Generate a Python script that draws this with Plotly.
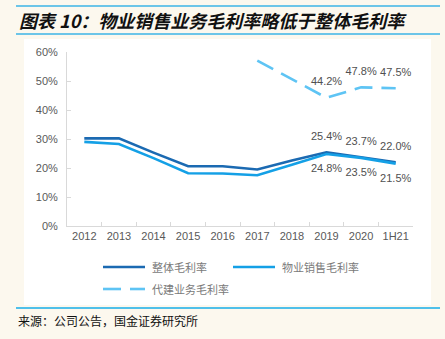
import plotly.graph_objects as go

categories = ["2012", "2013", "2014", "2015", "2016", "2017", "2018", "2019", "2020", "1H21"]
overall = [30.2, 30.2, 25.3, 20.6, 20.6, 19.5, 22.6, 25.4, 23.7, 22.0]
sales = [29.0, 28.3, 23.4, 18.2, 18.1, 17.5, 21.1, 24.8, 23.5, 21.5]
agency = [None, None, None, None, None, 57.0, 50.5, 44.2, 47.8, 47.5]
label_idx = [7, 8, 9]
series_names = ["整体毛利率", "物业销售毛利率", "代建业务毛利率"]
colors = ["#1B6AB2", "#14A0E6", "#5EC4F4"]

W, H = 445, 339
def px(x): return x / W
def py(y): return 1 - y / H

def labels(vals):
    return [f"{v:.1f}%" if (i in label_idx and v is not None) else "" for i, v in enumerate(vals)]

def msizes(vals):
    return [14 if i in label_idx else 0 for i in range(len(vals))]

fig = go.Figure()
specs = [(overall, "top center", None), (sales, "bottom center", None), (agency, "top center", "18px,9px")]
for (vals, pos, dash), name, col in zip(specs, series_names, colors):
    fig.add_trace(go.Scatter(x=categories, y=vals, mode="lines+markers+text", name=name,
                             line=dict(color=col, width=2.6, dash=dash),
                             marker=dict(size=msizes(vals), color="rgba(0,0,0,0)",
                                         line=dict(width=0, color="rgba(0,0,0,0)")),
                             text=labels(vals), textposition=pos,
                             textfont=dict(size=11, color="#505050"),
                             showlegend=False, hoverinfo="skip"))

shapes = [
    dict(type="rect", xref="paper", yref="paper", x0=px(24), x1=px(431), y0=py(305), y1=py(39),
         fillcolor="white", line=dict(width=0), layer="below"),
    dict(type="line", xref="paper", yref="paper", x0=px(16), x1=px(440), y0=py(6), y1=py(6),
         line=dict(color="#3DB5E6", width=1.5)),
    dict(type="line", xref="paper", yref="paper", x0=px(16), x1=px(440), y0=py(34), y1=py(34),
         line=dict(color="#3DB5E6", width=1.5)),
    dict(type="line", xref="paper", yref="paper", x0=px(16), x1=px(440), y0=py(308), y1=py(308),
         line=dict(color="#4FC0EA", width=2)),
]

annotations = [
    dict(text="<b><i>图表 10：物业销售业务毛利率略低于整体毛利率</i></b>", xref="paper", yref="paper",
         x=px(17), y=py(20), xanchor="left", yanchor="middle", showarrow=False,
         font=dict(size=18, color="#111111", family="Noto Sans CJK SC")),
    dict(text="来源：公司公告，国金证券研究所", xref="paper", yref="paper",
         x=px(16), y=py(320), xanchor="left", yanchor="middle", showarrow=False,
         font=dict(size=12, color="#111111", family="Noto Sans CJK SC")),
]

# manual legend (line samples + text)
leg_pos = [(103, 267), (233, 267), (103, 289)]
for (lx, ly), name, col, dashed in zip(leg_pos, series_names, colors, [False, False, True]):
    if dashed:
        shapes.append(dict(type="line", xref="paper", yref="paper", x0=px(lx), x1=px(lx + 18),
                           y0=py(ly), y1=py(ly), line=dict(color=col, width=2.6)))
        shapes.append(dict(type="line", xref="paper", yref="paper", x0=px(lx + 27), x1=px(lx + 42),
                           y0=py(ly), y1=py(ly), line=dict(color=col, width=2.6)))
    else:
        shapes.append(dict(type="line", xref="paper", yref="paper", x0=px(lx), x1=px(lx + 42),
                           y0=py(ly), y1=py(ly), line=dict(color=col, width=2.6)))
    annotations.append(dict(text=name, xref="paper", yref="paper", x=px(lx + 47), y=py(ly),
                            xanchor="left", yanchor="middle", showarrow=False,
                            font=dict(size=11, color="#7A7A7A", family="Noto Sans CJK SC")))

fig.update_layout(
    width=W, height=H, margin=dict(l=0, r=0, t=0, b=0),
    paper_bgcolor="#FCF8EE", plot_bgcolor="white",
    font=dict(family="Liberation Sans, Arial, Noto Sans CJK SC", size=11, color="#595959"),
    shapes=shapes, annotations=annotations,
    showlegend=False,
    xaxis=dict(domain=[px(67), px(413)], range=[-0.5, 9.5], type="category",
               showline=True, linecolor="#D9D9D9", linewidth=1,
               ticks="inside", ticklen=4, tickcolor="#D9D9D9", tickson="boundaries",
               tickangle=0, showgrid=False, automargin=False,
               tickfont=dict(size=11, color="#595959")),
    yaxis=dict(domain=[py(226), py(52)], range=[0, 60], dtick=10, ticksuffix="%",
               showline=True, linecolor="#D9D9D9", linewidth=1,
               ticks="inside", ticklen=4, tickcolor="#D9D9D9",
               showgrid=False, zeroline=False, automargin=False,
               ticklabelstandoff=6, tickfont=dict(size=11, color="#595959")),
)

fig.write_html("out.html")
